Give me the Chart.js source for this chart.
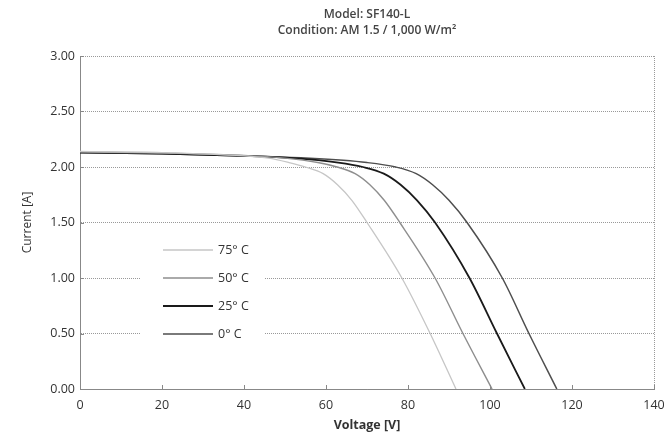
<!DOCTYPE html>
<html>
<head>
<meta charset="utf-8">
<script src="https://cdn.jsdelivr.net/npm/chart.js@4"></script>
<style>
  body { margin: 0; background: #fff; }
  #wrap { width: 665px; height: 437px; }
</style>
</head>
<body>
<div id="wrap"><canvas id="iv-chart" width="665" height="437"></canvas></div>
<script>
// voltage [V] and current [A] per temperature
const labels = ["75° C", "50° C", "25° C", "0° C"];
const colors = ["#c6c6c6", "#8e8e8e", "#1a1a1a", "#4e4e4e"];

const v75 = [0, 20, 40, 46, 51, 55, 59.3, 62.8, 66.3, 70, 78.5, 85.4, 91.7];
const i75 = [2.14, 2.13, 2.10, 2.08, 2.04, 2.0, 1.94, 1.84, 1.70, 1.5, 1.0, 0.5, 0];

const v50 = [0, 20, 40, 50, 58, 62.7, 67.1, 70.7, 74.2, 78, 86.6, 93.4, 100.5];
const i50 = [2.135, 2.125, 2.105, 2.08, 2.04, 2.0, 1.94, 1.84, 1.70, 1.5, 1.0, 0.5, 0];

const v25 = [0, 20, 40, 52, 63, 69, 74.1, 78.2, 82.2, 86.6, 95, 101.7, 108.5];
const i25 = [2.13, 2.12, 2.10, 2.08, 2.04, 2.0, 1.94, 1.84, 1.70, 1.5, 1.0, 0.5, 0];

const v0 = [0, 20, 40, 55, 70, 77, 82, 86, 90, 94.4, 103, 109.5, 116.3];
const i0 = [2.13, 2.12, 2.10, 2.08, 2.04, 2.0, 1.94, 1.84, 1.70, 1.5, 1.0, 0.5, 0];

const xTicks = [0, 20, 40, 60, 80, 100, 120, 140];
const yTicks = [0, 0.5, 1, 1.5, 2, 2.5, 3];

const titleLines = ["Model: SF140-L", "Condition: AM 1.5 / 1,000 W/m²"];

const font = "'Open Sans', 'Noto Sans', sans-serif";
const ink = "#333";

function pts(v, i) {
  return v.map((x, k) => ({ x: x, y: i[k] }));
}

const series = [pts(v75, i75), pts(v50, i50), pts(v25, i25), pts(v0, i0)];
const widths = [1.3, 1.4, 1.8, 1.5];

// inner ticks, legend on a white patch inside the plot, two line title
const extras = {
  id: "extras",
  afterDatasetsDraw(chart) {
    const c = chart.ctx;
    const xs = chart.scales.x, ys = chart.scales.y;
    const a = chart.chartArea;
    c.save();
    c.strokeStyle = "#888";
    c.lineWidth = 1;
    xTicks.forEach(t => {
      const px = Math.round(xs.getPixelForValue(t)) + 0.5;
      c.beginPath(); c.moveTo(px, a.bottom); c.lineTo(px, a.bottom - 4); c.stroke();
    });
    yTicks.forEach(t => {
      const py = Math.round(ys.getPixelForValue(t)) + 0.5;
      c.beginPath(); c.moveTo(a.left, py); c.lineTo(a.left + 4, py); c.stroke();
    });

    c.fillStyle = "#fff";
    c.fillRect(140, 240, 124, 104);
    c.font = "12.5px " + font;
    c.textBaseline = "middle";
    const rows = [250, 278, 306, 334];
    labels.forEach((lab, k) => {
      c.strokeStyle = colors[k];
      c.lineWidth = widths[k];
      c.beginPath(); c.moveTo(163, rows[k]); c.lineTo(213, rows[k]); c.stroke();
      c.fillStyle = ink;
      c.fillText(lab, 218, rows[k]);
    });

    c.textAlign = "center";
    c.textBaseline = "middle";
    c.font = "600 12px " + font;
    c.fillStyle = "#444";
    const cx = (a.left + a.right) / 2;
    c.fillText(titleLines[0], cx, 15);
    c.fillText(titleLines[1], cx, 31);
    c.restore();
  }
};

new Chart(document.getElementById("iv-chart"), {
  type: "line",
  data: {
    datasets: series.map((d, k) => ({
      label: labels[k],
      data: d,
      borderColor: colors[k],
      borderWidth: widths[k],
      pointRadius: 0,
      fill: false,
      cubicInterpolationMode: "monotone"
    }))
  },
  options: {
    responsive: false,
    animation: false,
    layout: { autoPadding: false, padding: { top: 56, right: 11, left: 16, bottom: 0 } },
    plugins: {
      legend: { display: false },
      title: { display: false },
      tooltip: { enabled: false }
    },
    scales: {
      x: {
        type: "linear",
        min: 0,
        max: 140,
        afterBuildTicks: s => { s.ticks = xTicks.map(v => ({ value: v })); },
        afterFit: s => { s.height = 48; s.paddingLeft = 0; s.paddingRight = 0; },
        ticks: { color: ink, font: { family: font, size: 12.5 }, padding: 9, maxRotation: 0 },
        grid: {
          drawTicks: false,
          color: ctx => (ctx.tick && ctx.tick.value === 140) ? "#999" : "transparent",
          lineWidth: 1
        },
        border: { display: true, color: "#888", dash: [1, 1] },
        title: { display: true, text: "Voltage [V]", color: ink, font: { family: font, size: 12.5, weight: "bold" }, padding: { top: 4 } }
      },
      y: {
        min: 0,
        max: 3,
        afterBuildTicks: s => { s.ticks = yTicks.map(v => ({ value: v })); },
        afterFit: s => { s.width = 64; s.paddingTop = 0; s.paddingBottom = 0; },
        ticks: { color: ink, font: { family: font, size: 12.5 }, padding: 5, callback: v => v.toFixed(2) },
        grid: { drawTicks: false, color: "#999", lineWidth: 1 },
        border: { display: true, color: "#888", dash: [1, 1] },
        title: { display: true, text: "Current [A]", color: ink, font: { family: font, size: 12 }, padding: { bottom: 6 } }
      }
    }
  },
  plugins: [extras]
});
</script>
</body>
</html>
